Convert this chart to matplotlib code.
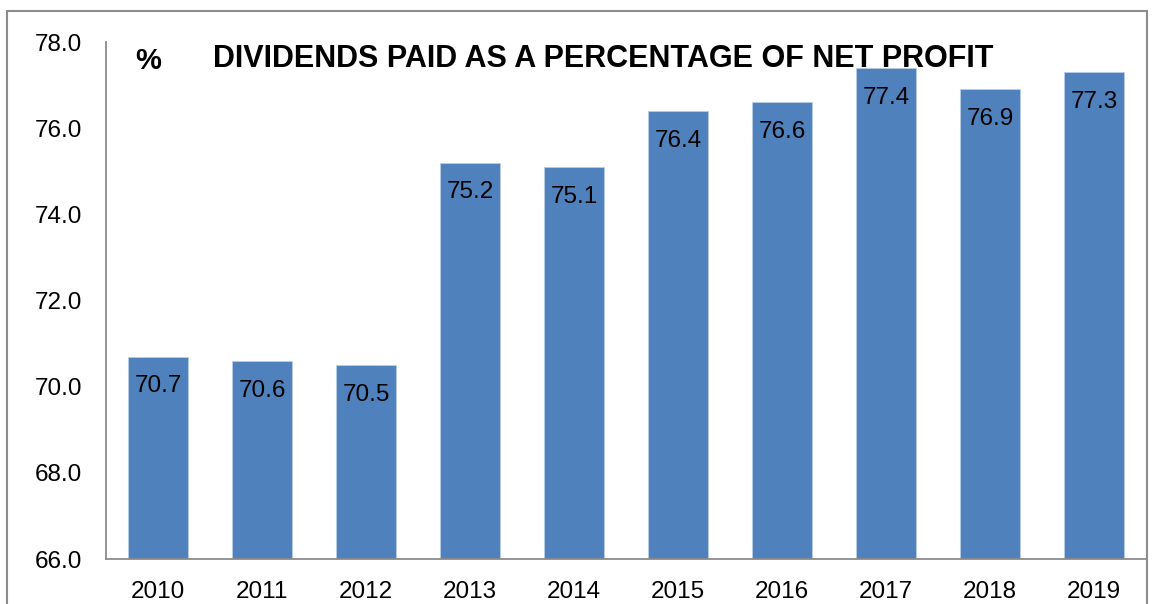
import matplotlib
matplotlib.use('Agg')
from matplotlib import pyplot as plt
from matplotlib.patches import Rectangle

years = ['2010', '2011', '2012', '2013', '2014', '2015', '2016', '2017', '2018', '2019']
payout = [70.7, 70.6, 70.5, 75.2, 75.1, 76.4, 76.6, 77.4, 76.9, 77.3]
y_ticks = [66.0, 68.0, 70.0, 72.0, 74.0, 76.0, 78.0]

plt.rcParams['font.family'] = ['Liberation Sans', 'DejaVu Sans']

W, H = 1153, 604
fig = plt.figure(figsize=(W / 100, H / 100), dpi=100)
ax = fig.add_axes([106 / W, 1 - 559 / H, 1040 / W, 517 / H])

# outer chart frame, bottom edge runs off the image
fig.patches.append(Rectangle((6.5 / W, -0.1), 1140.5 / W, 1.1 - 11.5 / H,
                             transform=fig.transFigure, fill=False,
                             ec='#8c8c8c', lw=1.5))

x = range(len(years))
bars = ax.bar(x, [v - 66 for v in payout], width=0.57, bottom=66,
              color='#4f81bd', edgecolor='#b9cde5', linewidth=0.6)

for i, v in enumerate(payout):
    ax.annotate('%.1f' % v, (i, v), xytext=(0, -21.5), textcoords='offset points',
                ha='center', va='center', fontsize=17.5, color='black')

ax.set_xlim(-0.5, 9.5)
ax.set_ylim(66, 78)
ax.set_yticks(y_ticks)
ax.set_yticklabels(['%.1f' % t for t in y_ticks])
ax.set_xticks(list(x))
ax.set_xticklabels(years)
ax.tick_params(axis='both', length=0, labelsize=17.5)
ax.tick_params(axis='y', pad=17)
ax.tick_params(axis='x', pad=16)

for s in ['top', 'right']:
    ax.spines[s].set_visible(False)
for s in ['left', 'bottom']:
    ax.spines[s].set_color('#8c8c8c')
    ax.spines[s].set_linewidth(1.3)

fig.text(148 / W, 1 - 61 / H, '%', fontsize=21, fontweight='bold',
         ha='center', va='center')
fig.text(213 / W, 1 - 59 / H, 'DIVIDENDS PAID AS A PERCENTAGE OF NET PROFIT',
         fontsize=22, fontweight='bold', ha='left', va='center')

fig.savefig('out.png', dpi=100)
